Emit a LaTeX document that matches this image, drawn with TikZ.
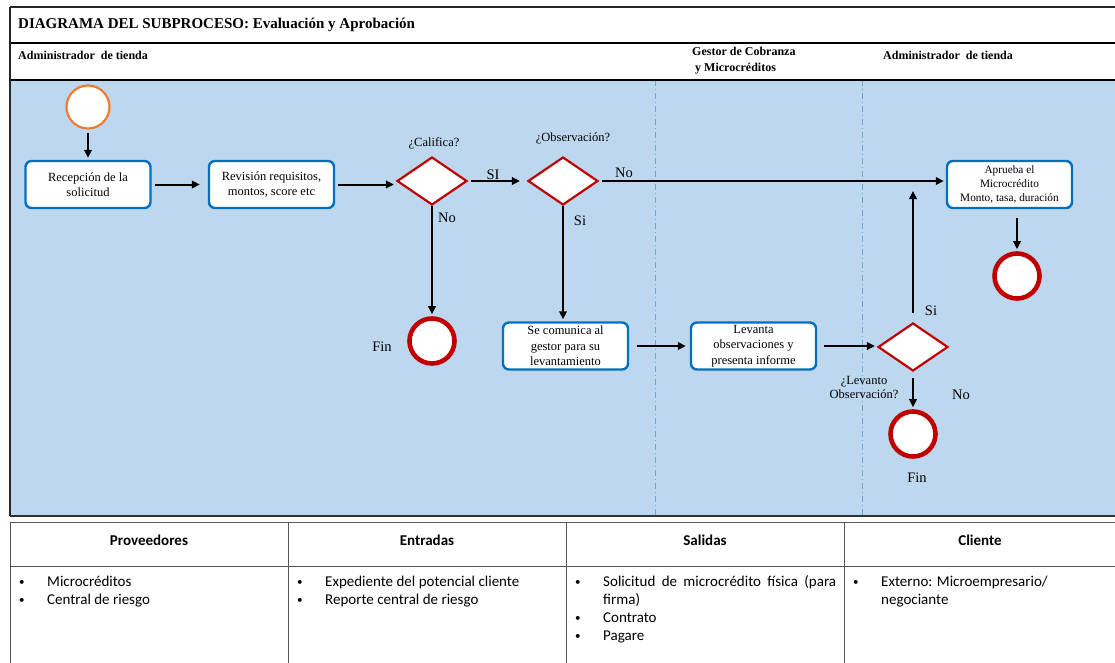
\documentclass[tikz,border=0pt]{standalone}
\usepackage{fontspec}
\setmainfont{Liberation Serif}
\newfontfamily\tablefont{Carlito}
\usetikzlibrary{shapes.geometric,arrows.meta}

\definecolor{poolblue}{HTML}{BDD7EE}
\definecolor{taskblue}{HTML}{0070C0}
\definecolor{gatered}{HTML}{C00000}
\definecolor{startorange}{HTML}{ED7D31}
\definecolor{lanedash}{HTML}{6FA6DA}
\definecolor{tablegray}{HTML}{555555}

\tikzset{
  task/.style={draw=taskblue, line width=2.4pt, fill=white, rounded corners=6pt,
    minimum width=125pt, minimum height=47pt, align=center, inner sep=1pt,
    font=\fontsize{12.5}{15.5}\selectfont},
  gate/.style={diamond, draw=gatered, line width=2.2pt, fill=white, inner sep=0pt,
    minimum width=70pt, minimum height=48pt},
  startev/.style={circle, draw=startorange, line width=2.2pt, fill=white,
    minimum size=43pt, inner sep=0pt},
  endev/.style={circle, draw=gatered, line width=4.6pt, fill=white,
    minimum size=45pt, inner sep=0pt},
  arr/.style={line width=2pt, -{Triangle[length=8pt,width=7.5pt]},
    shorten >=2pt, shorten <=3pt},
  flowlabel/.style={font=\fontsize{14.5}{16}\selectfont, inner sep=0pt},
  smalllabel/.style={font=\fontsize{12.5}{14}\selectfont, inner sep=0pt, align=center},
  lanehead/.style={font=\fontsize{12}{16}\selectfont\bfseries, inner sep=0pt,
    anchor=west, align=left},
  lanesep/.style={draw=lanedash, line width=0.7pt, dash pattern=on 6pt off 3pt on 1pt off 3pt},
  framerule/.style={line width=2pt, draw=black!85},
  tablerule/.style={line width=1pt, draw=tablegray},
  colhead/.style={font=\tablefont\fontsize{15}{17}\selectfont\bfseries, inner sep=0pt},
  bullet/.style={font=\tablefont\fontsize{11}{17}\selectfont, inner sep=0pt, anchor=base west},
  item/.style={font=\tablefont\fontsize{15}{17}\selectfont, inner sep=0pt, anchor=base west}
}

\begin{document}
\begin{tikzpicture}[x=1pt, y=-1pt]
\useasboundingbox (0,0) rectangle (1115,663);
\fill[white] (0,0) rectangle (1115,663);

% ---------- process frame ----------
\fill[poolblue] (10,80) rectangle (1115,516);
\draw[lanesep] (655,80) -- (655,516);
\draw[lanesep] (862,80) -- (862,516);
\draw[framerule] (10,7) -- (1115,7);
\draw[line width=1.5pt] (10,43) -- (1115,43);
\draw[line width=2.6pt] (10,80) -- (1115,80);
\draw[line width=2.6pt, draw=black!80] (10,516) -- (1115,516);
\draw[framerule] (10,7) -- (10,516);

\node[font=\fontsize{15}{17}\selectfont\bfseries, anchor=west, inner sep=0pt] (title) at (18,25)
  {DIAGRAMA DEL SUBPROCESO: Evaluación y Aprobación};
\node[lanehead] (lane1) at (18,55) {Administrador\ \ de tienda};
\node[lanehead, anchor=north west] (lane2) at (692,47) {Gestor de Cobranza\\\ y Microcréditos};
\node[lanehead] (lane3) at (883,55) {Administrador\ \ de tienda};

% ---------- flow elements ----------
\node[startev] (start) at (88,107) {};
\node[task] (recep) at (88,184.5) {Recepción de la\\solicitud};
\node[task] (revis) at (271.5,184.5) {Revisión requisitos,\\montos, score etc};
\node[gate] (d1) at (432,181) {};
\node[gate] (d2) at (563,181) {};
\node[endev] (fin1) at (432,341) {};
\node[task] (comun) at (565.5,346) {Se comunica al\\gestor para su\\levantamiento};
\node[task] (levanta) at (753.5,346) {Levanta\\observaciones y\\presenta informe};
\node[gate] (d3) at (913,347) {};
\node[endev] (fin3) at (913,434) {};
\node[task, font=\fontsize{11.3}{14}\selectfont] (aprueba) at (1009.5,184.5)
  {Aprueba el\\Microcrédito\\Monto, tasa, duración};
\node[endev] (fin2) at (1017,276) {};
\coordinate (siend) at (913,191);

% ---------- connectors ----------
\draw[arr] (start) -- (start |- recep.north);
\draw[arr, shorten >=8pt] (recep) -- (revis);
\draw[arr] (revis.east) -- (revis.east -| d1.west);
\draw[arr, shorten >=7pt] (d1) -- (d2);
\draw[arr] (d2.east) -- (d2.east -| aprueba.west);
\draw[arr, shorten <=0pt] (d1.south) -- (fin1.north);
\draw[arr, shorten <=0pt] (d2.south) -- (d2.south |- comun.north);
\draw[arr, shorten <=8pt, shorten >=4pt] (comun) -- (levanta);
\draw[arr, shorten <=7pt] (levanta.east) -- (levanta.east -| d3.west);
\draw[arr, shorten <=9pt, shorten >=0pt] (d3.north) -- (siend);
\draw[arr, shorten <=6pt] (d3.south) -- (fin3.north);
\draw[arr, shorten <=9pt] (aprueba.south -| fin2) -- (fin2.north);

% ---------- labels ----------
\node[smalllabel] (lcal) at (434,143) {¿Califica?};
\node[smalllabel] (lobs) at (573,138) {¿Observación?};
\node[flowlabel] (lsi1) at (493,175) {SI};
\node[flowlabel] (lno1) at (624,173) {No};
\node[flowlabel] (lno2) at (447,218) {No};
\node[flowlabel] (lsi2) at (580,221) {Si};
\node[flowlabel] (lfin1) at (382,347) {Fin};
\node[flowlabel] (lsi3) at (931,311) {Si};
\node[flowlabel] (lno3) at (961,395) {No};
\node[flowlabel] (lfin3) at (917,478) {Fin};
\node[smalllabel] (llev) at (864,387) {¿Levanto\\Observación?};

% ---------- SIPOC table ----------
\draw[tablerule] (10,522) -- (1115,522);
\draw[tablerule] (10,566) -- (1115,566);
\foreach \x in {10,288,566,844} \draw[tablerule] (\x,522) -- (\x,663);

\node[colhead] (hprov) at (149,540) {Proveedores};
\node[colhead] (hent) at (427,540) {Entradas};
\node[colhead] (hsal) at (705,540) {Salidas};
\node[colhead] (hcli) at (980,540) {Cliente};

\node[bullet] (b11) at (19,585) {•};
\node[item] (t11) at (47,586) {Microcréditos};
\node[bullet] (b12) at (19,603) {•};
\node[item] (t12) at (47,604) {Central de riesgo};

\node[bullet] (b21) at (297,585) {•};
\node[item] (t21) at (325,586) {Expediente del potencial cliente};
\node[bullet] (b22) at (297,603) {•};
\node[item] (t22) at (325,604) {Reporte central de riesgo};

\node[bullet] (b31) at (575,585) {•};
\node[item] (t31) at (603,586) {\makebox[233pt][s]{Solicitud de microcrédito física (para}};
\node[item] (t31b) at (603,604) {firma)};
\node[bullet] (b32) at (575,621) {•};
\node[item] (t32) at (603,622) {Contrato};
\node[bullet] (b33) at (575,639) {•};
\node[item] (t33) at (603,640) {Pagare};

\node[bullet] (b41) at (853,585) {•};
\node[item] (t41) at (881,586) {Externo: Microempresario/};
\node[item] (t41b) at (881,604) {negociante};
\end{tikzpicture}
\end{document}
